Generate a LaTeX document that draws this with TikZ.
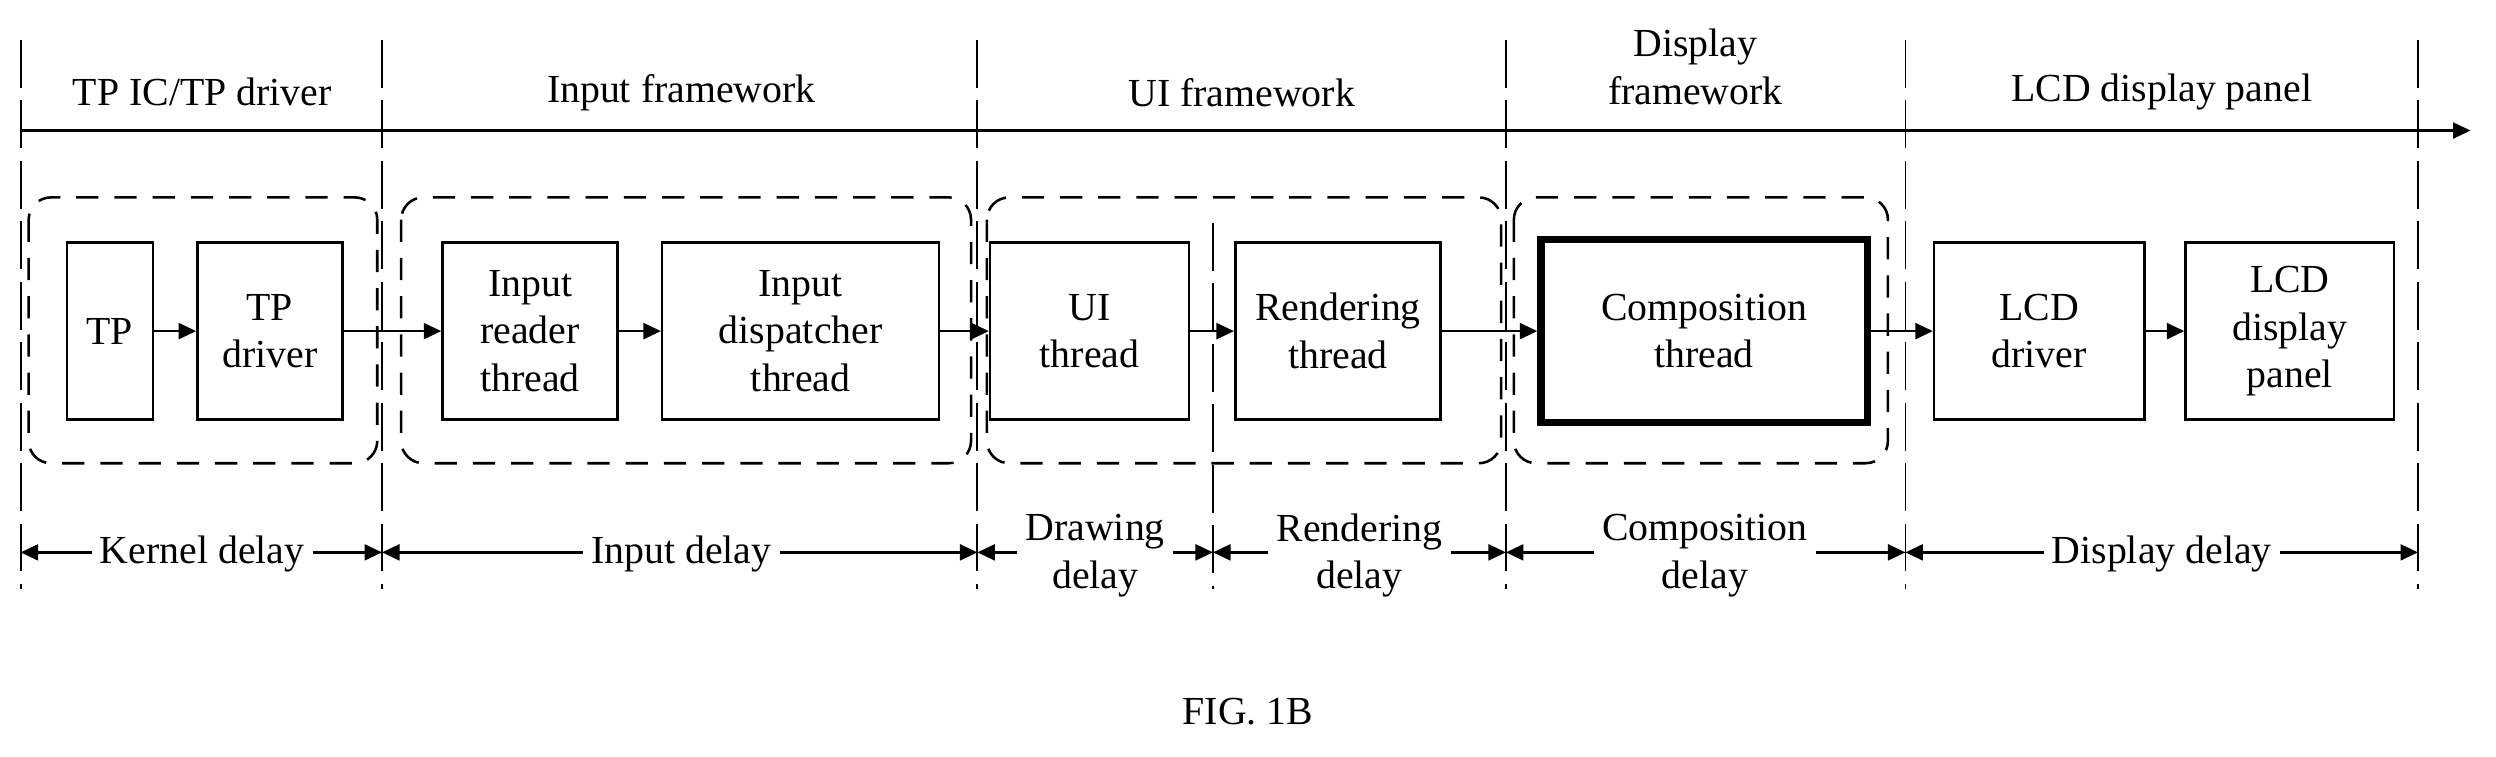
\documentclass[tikz,border=0pt]{standalone}
\usepackage{fontspec}
\setmainfont{Liberation Serif}
\usetikzlibrary{arrows.meta,positioning}
\tikzset{
  stage/.style={draw,line width=1.6pt,minimum height=111pt,align=center,inner sep=2pt},
  group/.style={draw,line width=1.6pt,dash pattern=on 14pt off 10pt,rounded corners=14pt},
  bound/.style={line width=1.2pt,dash pattern=on 30pt off 8pt},
  flow/.style={line width=1.6pt,-{Triangle[length=11pt,width=10pt]}},
  span/.style={line width=1.6pt,{Triangle[length=11pt,width=10pt]}-{Triangle[length=11pt,width=10pt]}},
  lbl/.style={align=center,inner sep=1pt,font=\fontsize{25}{30}\selectfont}
}
\begin{document}
\begin{tikzpicture}[x=1pt,y=-1pt,font=\fontsize{25}{30}\selectfont]
\useasboundingbox (0,0) rectangle (1568,475);
% stage boundaries
\foreach \bx in {13,240,614,946,1197,1519}
  \draw[bound] (\bx,25) -- (\bx,370);
\draw[bound] (762,140) -- (762,370);
% time axis
\coordinate (ax0) at (13,82);
\coordinate (ax1) at (1552,82);
\draw[flow] (ax0) -- (ax1);
% stage titles
\node[lbl] (tTP) at (127,58) {TP IC/TP driver};
\node[lbl] (tIn) at (428,58) {Input framework};
\node[lbl] (tUI) at (780,58) {UI framework};
\node[lbl] (tDF) at (1065,42) {Display\\framework};
\node[lbl] (tLCD) at (1358,58) {LCD display panel};
% dashed groups
\draw[group] (18,124) rectangle (237,291);
\draw[group] (252,124) rectangle (610,291);
\draw[group] (620,124) rectangle (943,291);
\draw[group] (951,124) rectangle (1186,291);
% stages
\node[stage,minimum width=54pt] (tp) at (69,208) {TP};
\node[stage,minimum width=91pt] (tpd) at (169.5,208) {TP\\driver};
\node[stage,minimum width=110pt] (ird) at (333,208) {Input\\reader\\thread};
\node[stage,minimum width=174pt] (ids) at (503,208) {Input\\dispatcher\\thread};
\node[stage,minimum width=125pt] (uit) at (684.5,208) {UI\\thread};
\node[stage,minimum width=129pt] (rnd) at (840.5,208) {Rendering\\thread};
\node[stage,line width=4.5pt,minimum width=205pt,minimum height=115pt] (cmp) at (1070.5,208) {Composition\\thread};
\node[stage,minimum width=132pt] (lcdd) at (1281,208) {LCD\\driver};
\node[stage,minimum width=131pt] (lcdp) at (1438.5,208) {LCD\\display\\panel};
\foreach \a/\b in {tp/tpd,tpd/ird,ird/ids,ids/uit,uit/rnd,rnd/cmp,cmp/lcdd,lcdd/lcdp}
  \draw[flow] (\a) -- (\b);
% delays
\node[lbl] (dK) at (127,348) {Kernel delay};
\node[lbl] (dI) at (428,348) {Input delay};
\node[lbl] (dD) at (688,349) {Drawing\\delay};
\node[lbl] (dR) at (854,349) {Rendering\\delay};
\node[lbl] (dC) at (1071,349) {Composition\\delay};
\node[lbl] (dP) at (1358,348) {Display delay};
\foreach \l/\r/\n in {13/240/dK,240/614/dI,614/762/dD,762/946/dR,946/1197/dC,1197/1519/dP}{
  \coordinate (\n L) at (\l,347);
  \coordinate (\n R) at (\r,347);
  \draw[flow] (\n.west |- \n L) ++(-4,0) -- (\n L);
  \draw[flow] (\n.east |- \n R) ++(4,0) -- (\n R);
}
% caption
\node[lbl] (fig) at (784,447) {FIG. 1B};
\end{tikzpicture}
\end{document}
